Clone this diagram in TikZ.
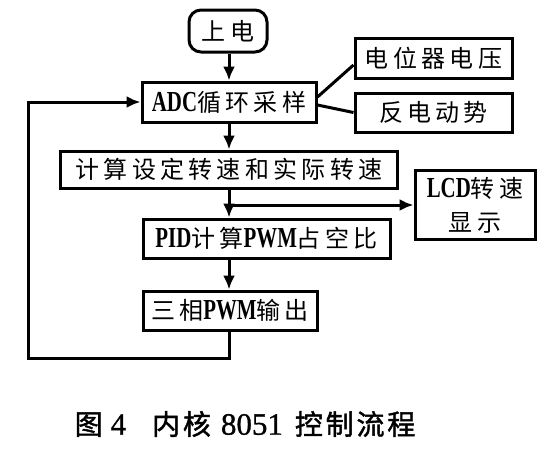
\documentclass[tikz,border=0pt]{standalone}
\usepackage{fontspec}
\setmainfont{Noto Sans CJK SC}
\newfontfamily\lat[FakeStretch=0.72]{Liberation Serif}
\newfontfamily\num{Liberation Serif}
\usetikzlibrary{arrows.meta}

\tikzset{
  blk/.style={draw, line width=3pt, inner sep=0pt, align=center,
    font=\fontsize{24}{34}\selectfont\addfontfeature{LetterSpace=18}},
  flow/.style={line width=3pt, -{Latex[length=14pt,width=12pt]}},
  link/.style={line width=3pt}
}
\newcommand{\en}[1]{{\lat\bfseries\fontsize{29}{34}\selectfont #1}}

\begin{document}
\begin{tikzpicture}[x=1pt,y=-1pt]
\useasboundingbox (0,0) rectangle (552,451);
% boxes
\node[blk, rounded corners=12pt, minimum width=78, minimum height=42] (start) at (228,31) {上电};
\node[blk, minimum width=174, minimum height=40] (adc) at (229,102) {\en{ADC}循环采样};
\node[blk, minimum width=157, minimum height=40] (pot) at (433.5,58) {电位器电压};
\node[blk, minimum width=157, minimum height=39] (emf) at (433.5,112.5) {反电动势};
\node[blk, minimum width=337, minimum height=37] (calc) at (229,169.5) {计算设定转速和实际转速};
\node[blk, minimum width=120, minimum height=69] (lcd) at (475,205) {\en{LCD}转速\\显示};
\node[blk, minimum width=247, minimum height=39] (pid) at (266.5,238.5) {\en{PID}计算\en{PWM}占空比};
\node[blk, minimum width=174, minimum height=39] (out) at (230,310.5) {三相\en{PWM}输出};
\coordinate (back) at (28,358);
% connectors
\draw[flow] (start.south -| adc.north) -- (adc.north);
\draw[link] ([yshift=5pt]adc.east) -- ([yshift=-7pt]pot.west);
\draw[link] ([yshift=-3pt]adc.east) -- (emf.west);
\draw[flow] (adc.south) -- (calc.north);
\draw[flow] (calc.south) -- (pid.north -| calc.south);
\draw[flow] (calc.south |- lcd.west) -- (lcd.west);
\draw[flow] (pid.south -| calc.south) -- (out.north -| calc.south);
\draw[flow] (out.south -| calc.south) |- (back) |- (adc.west);
% caption
\node[font=\fontsize{28}{30}\selectfont\addfontfeature{LetterSpace=10,FakeBold=1.5}] (cap) at (245,424)
  {图\hspace{8pt}{\num\fontsize{31}{30}\selectfont\addfontfeature{FakeBold=1} 4}\hspace{26pt}内核\hspace{10pt}{\num\fontsize{31}{30}\selectfont\addfontfeature{FakeBold=1} 8051}\hspace{12pt}控制流程};
\end{tikzpicture}
\end{document}
